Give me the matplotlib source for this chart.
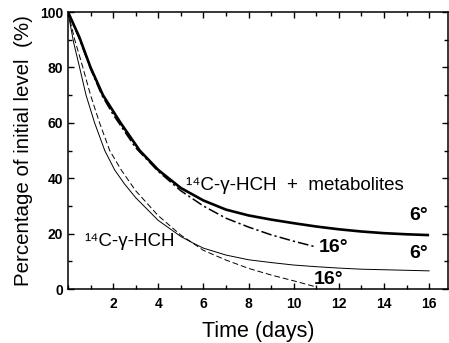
import numpy as np
import matplotlib.pyplot as plt
from matplotlib.ticker import MultipleLocator

plt.rcParams['font.family'] = ['Liberation Sans', 'DejaVu Sans']

# 14C-gamma-HCH + metabolites, 6 degrees (thick solid)
t_met6 = [0, 0.5, 1, 1.55, 2.33, 3.18, 4, 5, 6, 7, 8, 9, 10, 11, 12, 13, 14, 15, 16]
y_met6 = [100, 91, 80, 70, 60, 50, 43, 36.5, 32, 28.7, 26.6, 25.1, 23.8, 22.6, 21.6, 20.8, 20.2, 19.8, 19.5]

# 14C-gamma-HCH + metabolites, 16 degrees (dash-dot)
t_met16 = [0, 0.5, 1, 1.5, 2, 3, 4, 5, 6, 7, 8, 9, 10, 11]
y_met16 = [100, 90.5, 79.5, 70, 63, 51, 42.5, 35.5, 30, 25.6, 22.4, 19.6, 17.3, 15.2]

# 14C-gamma-HCH, 6 degrees (thin solid)
t_hch6 = [0, 0.25, 0.5, 0.8, 1.18, 1.63, 2.07, 2.5, 3, 4, 5, 5.5, 6, 7, 8, 9, 10, 11, 12, 13, 14, 15, 16]
y_hch6 = [100, 89, 80.5, 70, 60, 50, 43, 38, 33, 24.8, 19, 16.8, 14.8, 12.3, 10.6, 9.6, 8.7, 8.1, 7.6, 7.2, 7.0, 6.8, 6.6]

# 14C-gamma-HCH, 16 degrees (dashed)
t_hch16 = [0, 0.3, 0.66, 1.0, 1.4, 1.85, 2.36, 3, 4, 5, 5.5, 6, 7, 8, 9, 10, 11]
y_hch16 = [100, 90, 80, 70, 60, 50, 43, 35.5, 26.5, 19.5, 16.8, 14, 10.5, 7.5, 5.1, 3, 0.8]

fig = plt.figure(figsize=(4.49, 3.43), dpi=100)
ax = fig.add_axes([0.1514, 0.157, 0.847, 0.808])

ax.plot(t_met6, y_met6, color='black', lw=1.9, solid_capstyle='butt')
ax.plot(t_met16, y_met16, color='black', lw=1.1, linestyle=(0, (7, 2, 1.5, 2)))
ax.plot(t_hch6, y_hch6, color='black', lw=0.7)
ax.plot(t_hch16, y_hch16, color='black', lw=0.7, linestyle=(0, (6, 3)))

ax.set_xlim(0, 16.85)
ax.set_ylim(0, 100)
ax.xaxis.set_major_locator(MultipleLocator(2))
ax.xaxis.set_minor_locator(MultipleLocator(1))
ax.yaxis.set_major_locator(MultipleLocator(20))
ax.yaxis.set_minor_locator(MultipleLocator(10))
ax.tick_params(which='both', direction='in', top=True, right=True, width=1)
ax.tick_params(which='major', length=4, labelsize=10)
ax.tick_params(which='minor', length=3)
ax.tick_params(axis='x', pad=6)
ax.set_xticks([2, 4, 6, 8, 10, 12, 14, 16])
for lab in ax.get_xticklabels() + ax.get_yticklabels():
    lab.set_fontweight('bold')
for s in ax.spines.values():
    s.set_linewidth(1.1)

ax.set_xlabel('Time (days)', fontsize=15.5, labelpad=7)
ax.set_ylabel('Percentage of initial level  (%)', fontsize=14.8, labelpad=5)

ax.text(5.25, 37.3, '¹⁴C-γ-HCH  +  metabolites', fontsize=13.5, va='center')
ax.text(0.7, 17.3, '¹⁴C-γ-HCH', fontsize=13.5, va='center')
ax.text(15.1, 26.5, '6°', fontsize=14, fontweight='bold', va='center')
ax.text(15.1, 13.0, '6°', fontsize=14, fontweight='bold', va='center')
ax.text(11.1, 15.0, '16°', fontsize=14, fontweight='bold', va='center')
ax.text(10.9, 3.6, '16°', fontsize=14, fontweight='bold', va='center')

fig.savefig('out.png', dpi=100)
